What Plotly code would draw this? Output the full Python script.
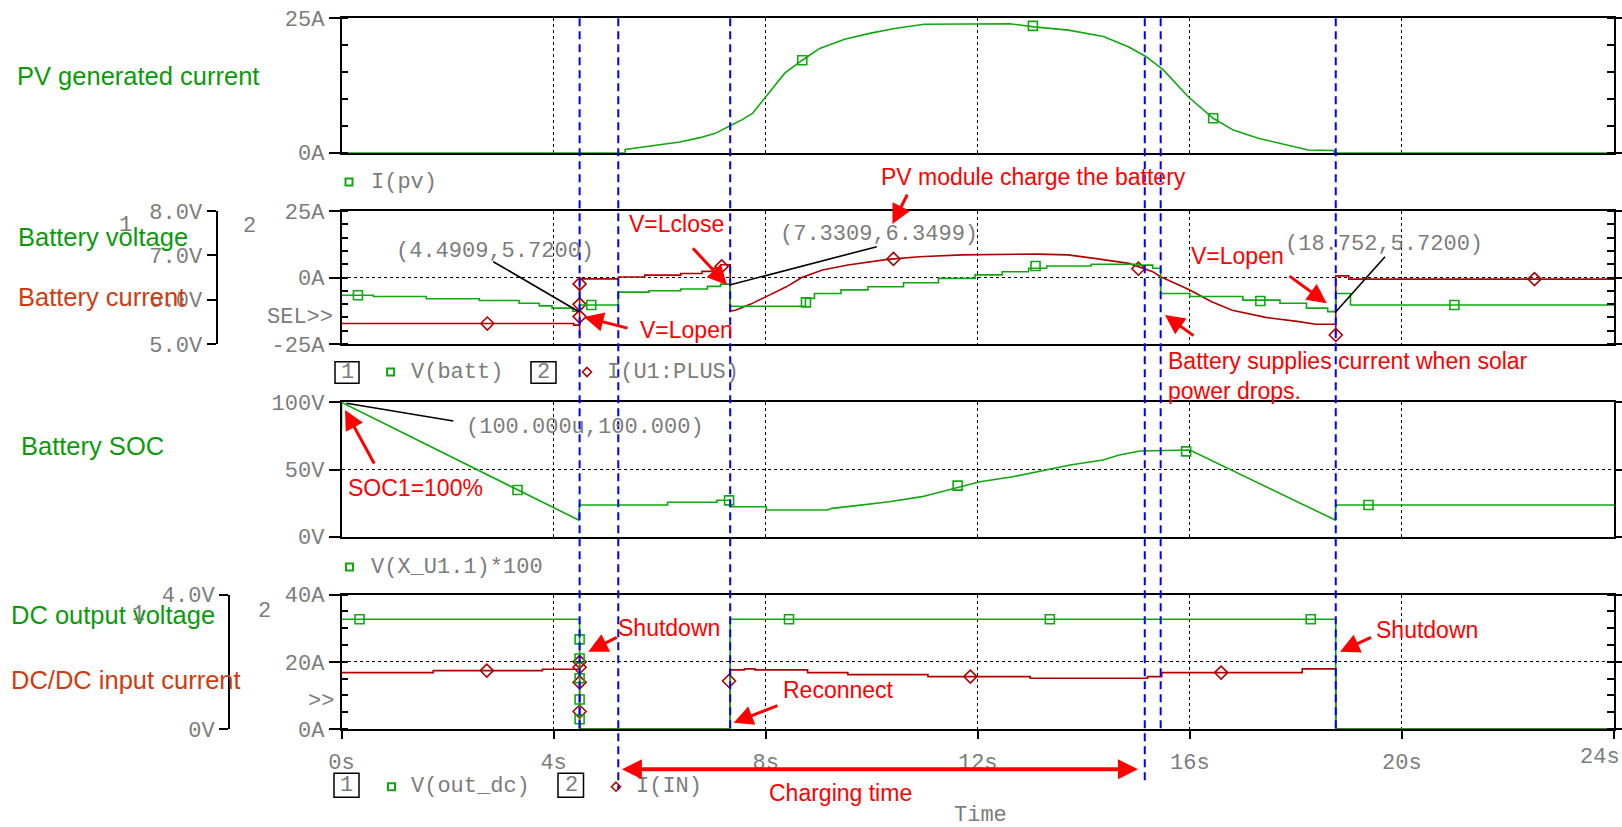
import plotly.graph_objects as go

W, H = 1622, 827

# ---------------- data ----------------
time_ticks = [0, 4, 8, 12, 16, 20, 24]
time_ticklabels = ["0s", "4s", "8s", "12s", "16s", "20s", ""]
last_time_label = "24s"

# Panel 1 : I(pv)  [A]
pv_t = [0, 5.35, 5.35, 5.82, 6.38, 6.76, 7.05, 7.33, 7.55, 7.75, 8.03, 8.36, 8.69, 9.02, 9.49, 9.96,
        10.43, 10.99, 12.6, 13.06, 13.71, 14.37, 14.84, 15.17, 15.5, 15.97, 16.44, 16.82, 17.29, 17.85,
        18.23, 18.72, 18.72, 24]
pv_i = [0, 0, 0.6, 1.2, 2.0, 2.8, 3.6, 5.0, 6.1, 7.3, 10.7, 14.8, 17.2, 19.4, 21.1, 22.2,
        23.1, 23.9, 24.0, 23.4, 22.8, 21.6, 19.7, 17.9, 15.4, 10.4, 6.4, 4.2, 2.7, 1.4,
        0.5, 0.4, 0, 0]
pv_mark_t = [8.69, 13.04, 16.44]
pv_mark_i = [17.2, 23.6, 6.4]

# Panel 2 : V(batt) [V] (step) and I(U1:PLUS) [A]
vbatt_t = [0, 0.6, 1.6, 2.6, 3.35, 3.73, 3.97, 4.36, 4.4909, 5.22, 5.8, 6.4, 6.9, 7.15, 7.3309, 8.75,
           8.92, 9.42, 9.93, 10.6, 11.26, 11.95, 12.46, 12.96, 13.3, 14.14, 14.98, 15.3, 15.45, 16.0,
           17.0, 17.7, 18.2, 18.6, 18.752, 19.03, 24]
vbatt_v = [6.10, 6.07, 6.02, 5.98, 5.92, 5.86, 5.81, 5.74, 5.88, 6.17, 6.20, 6.24, 6.30, 6.35, 5.85, 6.03,
           6.14, 6.22, 6.29, 6.38, 6.48, 6.56, 6.63, 6.71, 6.76, 6.80, 6.78, 6.71, 6.14, 6.07,
           5.99, 5.92, 5.81, 5.73, 6.14, 5.88, 5.88]
vbatt_mark_t = [0.31, 4.71, 8.76, 13.09, 17.33, 20.99]
vbatt_mark_v = [6.10, 5.88, 5.94, 6.76, 5.97, 5.88]

ibatt_t = [0, 4.38, 4.38, 4.4909, 4.4909, 4.4909, 5.22, 5.22, 5.72, 5.72, 6.4, 6.4, 6.8, 6.8, 7.0, 7.0,
           7.15, 7.15, 7.3309, 7.3309, 7.43, 7.72, 8.01, 8.39, 8.68, 9.07, 9.55, 10.03, 10.3, 10.9,
           11.7, 13.13, 13.7, 14.2, 14.85, 15.3, 15.45, 16.0, 16.4, 16.8, 17.43, 18.06, 18.37,
           18.752, 18.752, 18.752, 19.0, 19.0, 24]
ibatt_i = [-17.3, -17.3, -17.9, -17.9, -22.0, -0.5, -0.5, 0.2, 0.2, 0.9, 0.9, 1.5, 1.5, 2.3, 2.3, 3.5,
           3.5, 4.8, 4.8, -12.6, -12.3, -10.0, -7.2, -3.5, 0.0, 2.8, 4.7, 6.0, 6.8, 7.8,
           8.5, 8.8, 8.5, 7.2, 5.3, 2.2, 0.3, -4.7, -9.0, -12.3, -15.0, -16.6, -17.6,
           -17.6, -21.6, 0.6, 0.6, -0.6, -0.6]
ibatt_mark_t = [2.75, 4.4909, 4.4909, 4.4909, 7.17, 10.41, 15.03, 18.752, 22.5]
ibatt_mark_i = [-17.3, -2.4, -10.1, -14.7, 4.2, 7.0, 3.3, -21.6, -0.6]

# Panel 3 : V(X_U1.1)*100  (state of charge)
soc_t = [0, 0.0001, 4.47, 4.4909, 6.15, 6.15, 7.08, 7.08, 7.3309, 7.34, 8.01, 8.01, 9.17, 9.25, 9.71,
         10.33, 10.95, 11.57, 12.04, 12.66, 13.12, 13.74, 14.36, 14.67, 15.06, 15.91, 16.0, 18.74,
         18.752, 24]
soc_v = [80, 100, 12.4, 23.6, 23.6, 25.6, 25.6, 27.1, 27.1, 22.3, 22.3, 19.9, 19.9, 21.1, 23.1,
         26.0, 29.8, 36.0, 40.9, 44.6, 48.4, 53.3, 57.1, 60.8, 63.8, 64.5, 64.5, 12.4,
         23.6, 23.6]
soc_mark_t = [3.32, 7.31, 11.62, 15.93, 19.37]
soc_mark_v = [34.7, 27.0, 38.0, 63.5, 23.6]

# Panel 4 : V(out_dc) [V] and I(IN) [A]
vout_t = [0, 4.4909, 4.4909, 7.3309, 7.3309, 18.752, 18.752, 24]
vout_v = [3.27, 3.27, 0, 0, 3.27, 3.27, 0, 0]
vout_mark_t = [0.34, 4.4909, 4.4909, 4.4909, 4.4909, 4.4909, 8.44, 13.36, 18.28]
vout_mark_v = [3.27, 2.67, 2.10, 1.51, 0.88, 0.29, 3.27, 3.27, 3.27]

iin_t = [0, 1.73, 1.73, 3.79, 3.79, 4.4909, 4.4909, 4.4909, 7.3309, 7.3309, 7.6, 7.6, 7.8, 7.8,
         8.79, 8.79, 9.55, 9.55, 11.06, 11.06, 12.99, 12.99, 15.2, 15.2, 15.47, 15.47, 18.12, 18.12,
         18.752, 18.752, 24]
iin_i = [16.8, 16.8, 17.4, 17.4, 17.8, 17.8, 20.0, 0, 0, 17.6, 17.6, 17.9, 17.9, 17.6,
         17.6, 16.8, 16.8, 16.2, 16.2, 15.6, 15.6, 15.1, 15.1, 15.6, 15.6, 16.8, 16.8, 17.9,
         17.9, 0, 0]
iin_mark_t = [2.74, 4.4909, 4.4909, 4.4909, 4.4909, 7.31, 11.86, 16.59]
iin_mark_i = [17.4, 20.0, 18.4, 13.9, 5.2, 14.3, 15.6, 16.8]

# cursor / event times marked with blue dashed lines
event_times = [4.4909, 5.22, 7.3309, 15.15, 15.45, 18.752]

# ---------------- style ----------------
GREEN = "#10a810"
RED_TR = "#b00000"
LBL_GREEN = "#0c9a0c"
LBL_ORANGE = "#d03c10"
ANN_RED = "#ff0000"
GRAY = "#7c7c7c"
MONO = "Liberation Mono"
SANS = "Liberation Sans"


def px(x):
    return x / W


def py(y):
    return 1 - y / H


def ydom(top, bottom):
    return [1 - bottom / H, 1 - top / H]


xdom = [341.5 / W, 1614 / W]
tickfont = dict(family=MONO, size=22, color=GRAY)


def xax(anchor, labels=False):
    d = dict(domain=xdom, anchor=anchor, range=[0, 24], showline=True, mirror=True,
             linecolor="black", linewidth=2, showgrid=True, gridcolor="black", griddash="dot",
             gridwidth=1, tickmode="array", tickvals=time_ticks, zeroline=False, fixedrange=True,
             automargin=False)
    if labels:
        d.update(ticks="outside", ticklen=8, tickwidth=1.5, tickcolor="black",
                 ticktext=time_ticklabels, showticklabels=True, tickfont=tickfont,
                 ticklabelstandoff=4)
    else:
        d.update(ticks="", showticklabels=False)
    if anchor != "y":
        d["matches"] = "x"
    return d


def yax(anchor, dom, rng, vals, texts, grid, minor=None):
    d = dict(domain=dom, anchor=anchor, range=rng, tickmode="array", tickvals=vals, ticktext=texts,
             ticks="outside", ticklen=11, tickwidth=1.5, tickcolor="black", showline=True,
             mirror="ticks", linecolor="black", linewidth=1.5, showgrid=grid, gridcolor="black",
             griddash="dot", gridwidth=1, zeroline=False, tickfont=tickfont, fixedrange=True,
             automargin=False)
    if minor:
        d["minor"] = dict(tickmode="linear", tick0=0, dtick=minor, ticks="inside", ticklen=7,
                          tickwidth=1.5, tickcolor="black", showgrid=False)
    return d


def vax(over, pos, rng, vals, texts):
    return dict(overlaying=over, anchor="free", position=pos / W, side="left", range=rng,
                tickmode="array", tickvals=vals, ticktext=texts, ticks="outside", ticklen=9,
                tickwidth=1.5, tickcolor="black", showline=True, linecolor="black", linewidth=2,
                showgrid=False, zeroline=False, tickfont=tickfont, fixedrange=True, automargin=False)


d1 = ydom(18.3, 152.7)
d2 = ydom(211, 344)
d3 = ydom(402.3, 536.7)
d4 = ydom(594.7, 729)

fig = go.Figure()


def line(x, y, xa, ya, color, shape="linear"):
    fig.add_trace(go.Scatter(x=x, y=y, xaxis=xa, yaxis=ya, mode="lines",
                             line=dict(color=color, width=1.6, shape=shape), hoverinfo="skip"))


def marks(x, y, xa, ya, color, symbol):
    fig.add_trace(go.Scatter(x=x, y=y, xaxis=xa, yaxis=ya, mode="markers", cliponaxis=False,
                             marker=dict(symbol=symbol, size=9 if symbol.startswith("square") else 10,
                                         color=color, line=dict(color=color, width=1.6)),
                             hoverinfo="skip"))


line(pv_t, pv_i, "x", "y", GREEN)
marks(pv_mark_t, pv_mark_i, "x", "y", GREEN, "square-open")

line(vbatt_t, vbatt_v, "x2", "y5", GREEN, "hv")
line(ibatt_t, ibatt_i, "x2", "y2", RED_TR)
marks(vbatt_mark_t, vbatt_mark_v, "x2", "y5", GREEN, "square-open")
marks(ibatt_mark_t, ibatt_mark_i, "x2", "y2", RED_TR, "diamond-open")

line(soc_t, soc_v, "x3", "y3", GREEN)
marks(soc_mark_t, soc_mark_v, "x3", "y3", GREEN, "square-open")

line(vout_t, vout_v, "x4", "y6", GREEN)
line(iin_t, iin_i, "x4", "y4", RED_TR)
marks(vout_mark_t, vout_mark_v, "x4", "y6", GREEN, "square-open")
marks(iin_mark_t, iin_mark_i, "x4", "y4", RED_TR, "diamond-open")

shapes = []
annotations = []

# blue dashed event lines
event_bottoms = [730, 790, 730, 782, 733, 730]
for t, b in zip(event_times, event_bottoms):
    shapes.append(dict(type="line", xref="x", yref="paper", x0=t, x1=t, y0=py(18.3), y1=py(b),
                       line=dict(color="#0000ff", width=2, dash="8px,5px"), layer="above"))

# black cursor callout lines
for (x0, y0, x1, y1) in [(493.3, 261.7, 579, 311.7), (876.8, 246.7, 729.5, 285),
                         (1385, 256.7, 1335, 312.7), (453.4, 421, 346.5, 403.3)]:
    shapes.append(dict(type="line", xref="paper", yref="paper", x0=px(x0), y0=py(y0), x1=px(x1),
                       y1=py(y1), line=dict(color="black", width=1.6)))


def txt(s, x, y, font, xanchor="center", align="center"):
    annotations.append(dict(text=s, x=px(x), y=py(y), xref="paper", yref="paper", showarrow=False,
                            xanchor=xanchor, yanchor="middle", font=font, align=align))


def arrow(x0, y0, x1, y1, width=3, both=False):
    annotations.append(dict(text="", x=px(x1), y=py(y1), xref="paper", yref="paper",
                            ax=x0 - x1, ay=y0 - y1, axref="pixel", ayref="pixel", showarrow=True,
                            arrowhead=2, arrowsize=1.3 if not both else 1.0, arrowwidth=width,
                            arrowcolor=ANN_RED, standoff=0, startstandoff=0,
                            arrowside="end+start" if both else "end"))


# left panel titles
lf = lambda c: dict(family=SANS, size=25.5, color=c)
txt("PV generated current", 15.3, 76, lf(LBL_GREEN), "left")
txt("Battery voltage", 15.6, 237, lf(LBL_GREEN), "left")
txt("Battery current", 15.6, 297, lf(LBL_ORANGE), "left")
txt("Battery SOC", 18.7, 446, lf(LBL_GREEN), "left")
txt("DC output voltage", 8.9, 615, lf(LBL_GREEN), "left")
txt("DC/DC input current", 8.9, 680, lf(LBL_ORANGE), "left")

# mono gray texts (cursor values, legends, axis numbers)
mf = dict(family=MONO, size=22, color=GRAY)
txt("(4.4909,5.7200)", 494.5, 251, mf)
txt("(7.3309,6.3499)", 879, 234, mf)
txt("(18.752,5.7200)", 1384, 244, mf)
txt("(100.000u,100.000)", 585, 427, mf)
txt("1", 125, 225, mf)
txt("2", 249.5, 226, mf)
txt("1", 138, 614, mf)
txt("2", 264, 611, mf)
txt("SEL>>", 335, 317, mf, "right")
txt(">>", 336, 701, mf, "right")
txt("I(pv)", 369, 182, mf, "left")
txt("V(batt)", 409, 372, mf, "left")
txt("I(U1:PLUS)", 605, 372, mf, "left")
txt("V(X_U1.1)*100", 369, 567, mf, "left")
txt("V(out_dc)", 409, 786, mf, "left")
txt("I(IN)", 634, 786, mf, "left")
txt("1", 347, 372.5, mf)
txt("2", 543.5, 372.5, mf)
txt("1", 346.5, 785, mf)
txt("2", 571, 785, mf)
txt("Time", 980, 815, mf)
txt(last_time_label, 1600, 757, mf)

for (x0, y0, x1, y1) in [(335, 361.7, 359, 383.3), (531, 361.7, 556, 383.3),
                         (334, 773.3, 359, 797.3), (558, 773.3, 583.5, 797.3)]:
    shapes.append(dict(type="rect", xref="paper", yref="paper", x0=px(x0), y0=py(y0), x1=px(x1),
                       y1=py(y1), line=dict(color="black", width=1.5)))

# legend symbols
for (cx, cy) in [(349, 182), (390.6, 372), (349.5, 567), (391.5, 786.7)]:
    shapes.append(dict(type="rect", xref="paper", yref="paper", x0=px(cx - 3.5), x1=px(cx + 3.5),
                       y0=py(cy + 3.5), y1=py(cy - 3.5), line=dict(color=GREEN, width=2)))
for (cx, cy) in [(587, 372), (616, 786.7)]:
    pth = "M {},{} L {},{} L {},{} L {},{} Z".format(px(cx), py(cy - 4.5), px(cx + 4.5), py(cy),
                                                     px(cx), py(cy + 4.5), px(cx - 4.5), py(cy))
    shapes.append(dict(type="path", xref="paper", yref="paper", path=pth,
                       line=dict(color=RED_TR, width=1.6)))

# red explanatory texts
rf = dict(family=SANS, size=23, color=ANN_RED)
txt("PV module charge the battery", 1033, 177, rf)
txt("V=Lclose", 676, 224, rf)
txt("V=Lopen", 686, 330, rf)
txt("V=Lopen", 1237.5, 256, rf)
txt("Battery supplies current when solar<br>power drops.", 1166, 376, rf, "left", "left")
txt("SOC1=100%", 415, 488, rf)
txt("Shutdown", 668.5, 627.5, rf)
txt("Shutdown", 1427, 630, rf)
txt("Reconnect", 838, 690, rf)
txt("Charging time", 840, 793, rf)

arrow(908, 193.3, 892.4, 224)
arrow(691.5, 246.7, 727, 285)
arrow(629, 328.5, 584, 317)
arrow(1288, 275, 1326.7, 303.3)
arrow(1195, 336.7, 1165, 315)
arrow(375, 465, 345, 410)
arrow(618.3, 636.7, 588.3, 651.7)
arrow(1372.5, 636.7, 1340, 651.7)
arrow(779, 705, 733.6, 722.7)
arrow(620.4, 769.3, 1138, 769.3, width=4, both=True)

fig.update_layout(
    width=W, height=H, autosize=False,
    margin=dict(l=0, r=0, t=0, b=0, pad=0, autoexpand=False),
    paper_bgcolor="white", plot_bgcolor="white",
    showlegend=False,
    xaxis=xax("y"),
    xaxis2=xax("y2"),
    xaxis3=xax("y3"),
    xaxis4=xax("y4", labels=True),
    yaxis=yax("x", d1, [0, 25], [0, 25], ["0A", "25A"], False, minor=5),
    yaxis2=yax("x2", d2, [-25, 25], [-25, 0, 25], ["-25A", "0A", "25A"], True, minor=5),
    yaxis3=yax("x3", d3, [0, 100], [0, 50, 100], ["0V", "50V", "100V"], True),
    yaxis4=yax("x4", d4, [0, 40], [0, 20, 40], ["0A", "20A", "40A"], True, minor=5),
    yaxis5=vax("y2", 216.5, [5, 8], [5, 6, 7, 8], ["5.0V", "6.0V", "7.0V", "8.0V"]),
    yaxis6=vax("y4", 229, [0, 4], [0, 4], ["0V", "4.0V"]),
    shapes=shapes,
    annotations=annotations,
)

fig.write_html("out.html", config={"displayModeBar": False},
               post_script="document.body.style.margin='0';document.body.style.overflow='hidden';")
